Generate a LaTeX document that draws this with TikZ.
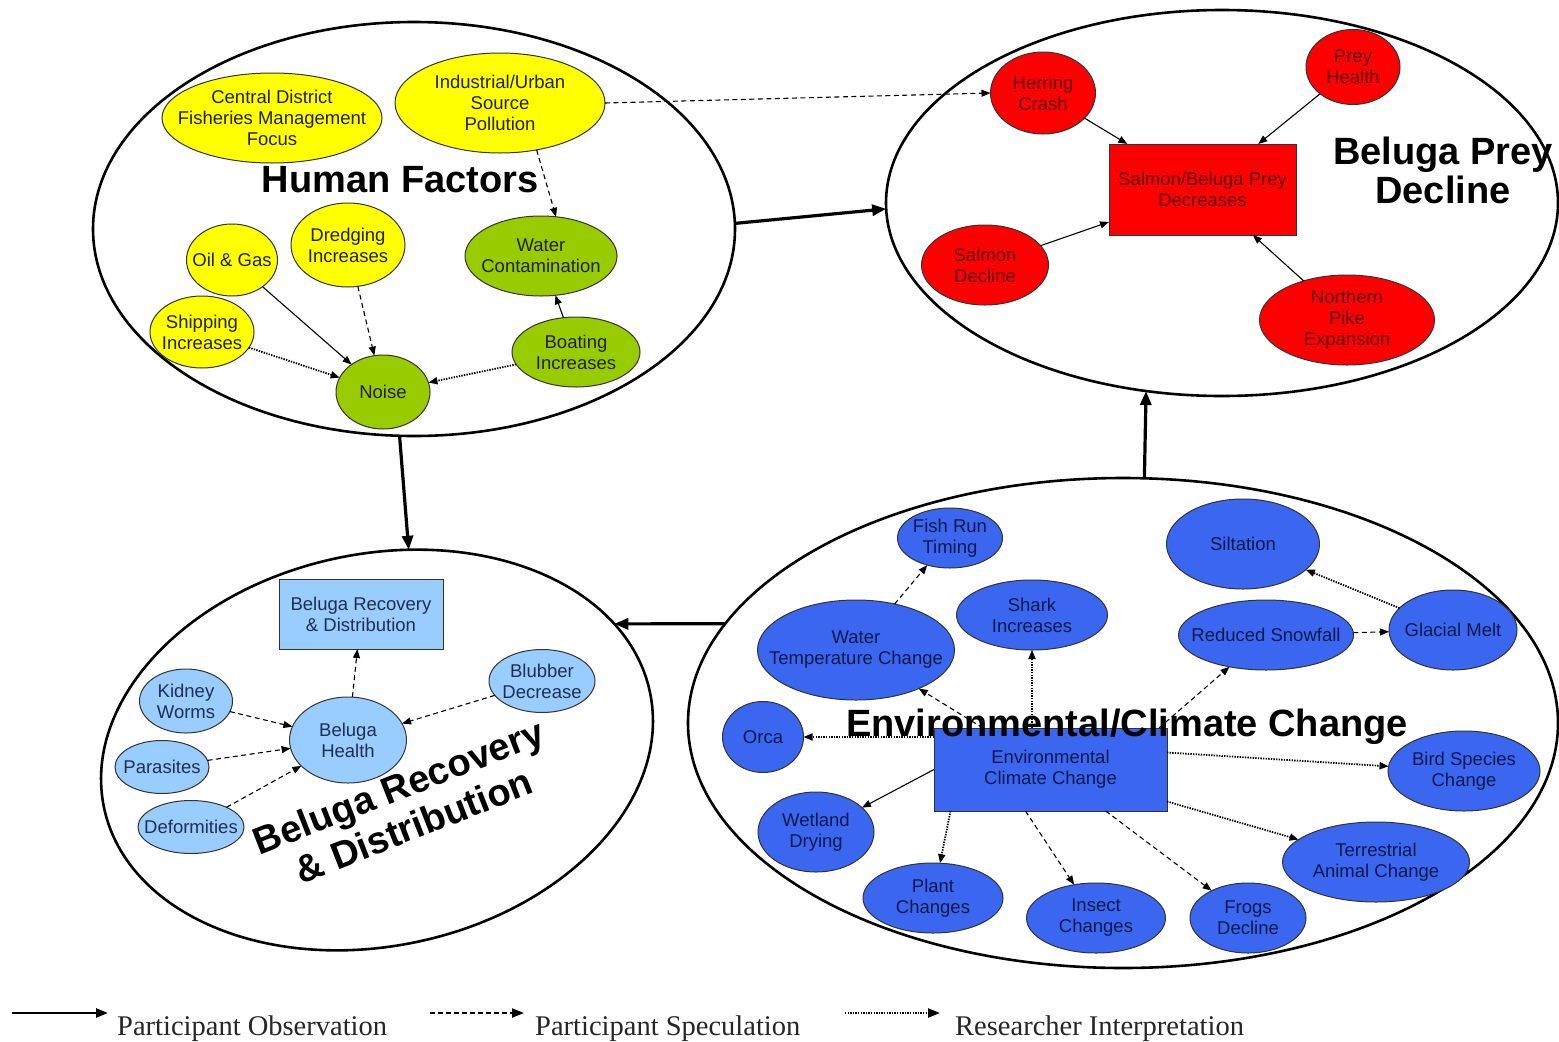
\documentclass[tikz,border=0pt]{standalone}
\usepackage{fontspec}
\setmainfont{Liberation Sans}
\newfontfamily\legfont{Liberation Serif}
\usetikzlibrary{arrows.meta,shapes.geometric}
\definecolor{yel}{HTML}{FFFF00}
\definecolor{grn}{HTML}{99CC00}
\definecolor{redf}{HTML}{FF0000}
\definecolor{blu}{HTML}{3A66F0}
\definecolor{lblu}{HTML}{99CCFF}
\definecolor{darktxt}{HTML}{202020}
\definecolor{redtxt}{HTML}{5C0000}
\definecolor{blutxt}{HTML}{0D1A4D}
\definecolor{lbtxt}{HTML}{1F2F4F}
\newcommand\nodefont{\fontsize{18.5}{21}\selectfont}
\newcommand\titlefont{\fontsize{38}{39}\selectfont\bfseries}
\begin{document}
\begin{tikzpicture}[x=1pt,y=-1pt,
 bigell/.style={ellipse,draw=black,line width=2.6pt,inner sep=0pt,outer sep=0pt},
 ell/.style={ellipse,draw=black!80,line width=1pt,inner sep=0pt,outer sep=0pt},
 lab/.style={align=center,font=\nodefont,inner sep=0pt},
 yelnode/.style={ell,fill=yel,label={[lab,text=darktxt]center:#1}},
 grnnode/.style={ell,fill=grn,label={[lab,text=darktxt]center:#1}},
 rednode/.style={ell,fill=redf,label={[lab,text=redtxt]center:#1}},
 blunode/.style={ell,fill=blu,label={[lab,text=blutxt]center:#1}},
 lbnode/.style={ell,fill=lblu,label={[lab,text=lbtxt]center:#1}},
 box/.style={rectangle,draw=black!80,line width=1pt,inner sep=0pt,outer sep=0pt,align=center,font=\nodefont},
 titlenode/.style={font=\titlefont,align=center,inner sep=0pt,text=black},
 edge/.style={line width=1.1pt,-{Triangle[length=9pt,width=7pt]}},
 obs/.style={edge},
 spec/.style={edge,dash pattern=on 5pt off 3.5pt},
 interp/.style={edge,line width=1.8pt,dash pattern=on 1.4pt off 1.2pt},
 bigarrow/.style={line width=3.2pt,-{Triangle[length=14pt,width=11pt]}},
 legtext/.style={font={\legfont\fontsize{28.5}{30}\selectfont},text=black!85,inner sep=0pt},
]
\fill[white] (0,0) rectangle (1559,1042);
\useasboundingbox (0,0) rectangle (1559,1042);

% group ellipses
\node[bigell,minimum width=642pt,minimum height=414pt] (HF) at (414,229) {};
\node[bigell,minimum width=672pt,minimum height=386pt] (BP) at (1222,203) {};
\node[bigell,rotate=12,minimum width=558pt,minimum height=392pt] (BR) at (377,750) {};
\node[bigell,minimum width=870pt,minimum height=490pt] (ENV) at (1123,723) {};

% Human factors
\node[yelnode={Central District\\Fisheries Management\\Focus},minimum width=220pt,minimum height=90pt] (cdf) at (272,118) {};
\node[yelnode={Industrial/Urban\\Source\\Pollution},minimum width=210pt,minimum height=100pt] (ind) at (500,103) {};
\node[yelnode={Oil \& Gas},minimum width=91pt,minimum height=72pt] (oil) at (232,260) {};
\node[yelnode={Dredging\\Increases},minimum width=114pt,minimum height=84pt] (dre) at (348,245) {};
\node[yelnode={Shipping\\Increases},minimum width=104pt,minimum height=72pt] (shi) at (202,332) {};
\node[grnnode={Water\\Contamination},minimum width=152pt,minimum height=80pt] (wc) at (541,256) {};
\node[grnnode={Boating\\Increases},minimum width=128pt,minimum height=70pt] (boa) at (576,352) {};
\node[grnnode={Noise},minimum width=94pt,minimum height=74pt] (noi) at (383,392) {};

% Beluga prey
\node[rednode={Herring\\Crash},minimum width=105pt,minimum height=82pt] (hc) at (1043,93) {};
\node[rednode={Prey\\Health},minimum width=94pt,minimum height=75pt] (ph) at (1353,67) {};
\node[box,fill=redf,text=redtxt,minimum width=187pt,minimum height=91pt] (sbp) at (1202.5,189.5) {Salmon/Beluga Prey\\Decreases};
\node[rednode={Salmon\\Decline},minimum width=127pt,minimum height=80pt] (sd) at (985,265) {};
\node[rednode={Northern\\Pike\\Expansion},minimum width=175pt,minimum height=90pt] (np) at (1347,320) {};

% Beluga recovery
\node[box,fill=lblu,text=lbtxt,minimum width=164pt,minimum height=70pt] (brd) at (361,614) {Beluga Recovery\\\& Distribution};
\node[lbnode={Kidney\\Worms},minimum width=93pt,minimum height=64pt] (kw) at (186,701) {};
\node[lbnode={Parasites},minimum width=94pt,minimum height=53pt] (par) at (162,767) {};
\node[lbnode={Deformities},minimum width=106pt,minimum height=53pt] (def) at (191,827) {};
\node[lbnode={Beluga\\Health},minimum width=117pt,minimum height=86pt] (bh) at (348,740) {};
\node[lbnode={Blubber\\Decrease},minimum width=106pt,minimum height=63pt] (bd) at (542,681) {};

% Environmental
\node[blunode={Fish Run\\Timing},minimum width=105pt,minimum height=60pt] (frt) at (950,538) {};
\node[blunode={Water\\Temperature Change},minimum width=197pt,minimum height=100pt] (wtc) at (856,650) {};
\node[blunode={Shark\\Increases},minimum width=151pt,minimum height=70pt] (shk) at (1032,615) {};
\node[blunode={Siltation},minimum width=153pt,minimum height=90pt] (sil) at (1243,544) {};
\node[blunode={Reduced Snowfall},minimum width=175pt,minimum height=70pt] (rsn) at (1266,635) {};
\node[blunode={Glacial Melt},minimum width=128pt,minimum height=80pt] (gm) at (1453,630) {};
\node[blunode={Orca},minimum width=81pt,minimum height=71pt] (orc) at (763,737) {};
\node[box,fill=blu,text=blutxt,minimum width=233pt,minimum height=83pt] (ecc) at (1050.5,769.5) {Environmental\\Climate Change};
\node[blunode={Bird Species\\Change},minimum width=152pt,minimum height=80pt] (bsc) at (1464,771) {};
\node[blunode={Wetland\\Drying},minimum width=116pt,minimum height=80pt] (wd) at (816,832) {};
\node[blunode={Plant\\Changes},minimum width=140pt,minimum height=70pt] (pc) at (933,898) {};
\node[blunode={Insect\\Changes},minimum width=139pt,minimum height=70pt] (ic) at (1096,918) {};
\node[blunode={Frogs\\Decline},minimum width=116pt,minimum height=70pt] (fd) at (1248,918) {};
\node[blunode={Terrestrial\\Animal Change},minimum width=187pt,minimum height=80pt] (tac) at (1376,862) {};

% Human factors connectors
\draw[obs] (oil) -- (noi);
\draw[spec] (dre) -- (noi);
\draw[interp] (shi) -- (noi);
\draw[interp] (boa) -- (noi);
\draw[obs] (boa) -- (wc);
\draw[spec] (ind.-52.5) -- (wc.69);
\draw[spec] (ind.east) -- (hc.west);

% Beluga prey connectors
\draw[obs] (hc) -- (sbp);
\draw[obs] (ph) -- (sbp);
\draw[obs] (sd) -- (sbp);
\draw[obs] (np) -- (sbp);

% Beluga recovery connectors
\draw[spec] (bh) -- (brd);
\draw[spec] (kw) -- (bh);
\draw[spec] (par) -- (bh);
\draw[spec] (def) -- (bh);
\draw[spec] (bd) -- (bh);

% Environmental connectors
\draw[spec] (wtc) -- (frt);
\draw[spec] (ecc) -- (wtc);
\draw[interp] (ecc.north -| shk) -- (shk);
\draw[interp] (ecc.west |- orc) -- (orc);
\draw[spec] ([xshift=-8pt]ecc.north east) -- (rsn);
\draw[spec] (rsn) -- (gm);
\draw[interp] (gm) -- (sil);
\draw[interp] ([yshift=17pt]ecc.east) -- (bsc);
\draw[interp] ([yshift=-32pt]ecc.east) -- (tac);
\draw[obs] (ecc.west) -- (wd);
\draw[interp] ([xshift=-100pt]ecc.south) -- (pc);
\draw[spec] ([xshift=-25pt]ecc.south) -- (ic);
\draw[spec] (ecc) -- (fd);

% group connectors
\draw[bigarrow] (HF.1.2) -- (BP.181.7);
\draw[bigarrow] (HF.-94.7) -- (BR.69.8);
\draw[bigarrow] (ENV.85.3) -- (BP.-112.3);
\draw[bigarrow] (ENV.166.7) -- (BR.16.1);

% titles
\node[titlenode,anchor=base] (hft) at (400,192) {Human Factors};
\node[titlenode] (bpt) at (1443,170) {Beluga Prey\\Decline};
\node[titlenode,rotate=21.4,font={\fontsize{38}{42}\selectfont\bfseries}] (brt) at (406,806) {Beluga Recovery\\\& Distribution};
\node[titlenode,anchor=base] (envt) at (1127,736) {Environmental/Climate Change};

% legend
\coordinate (lg1a) at (12,1013); \coordinate (lg1b) at (108,1013);
\coordinate (lg2a) at (430,1013); \coordinate (lg2b) at (524,1013);
\coordinate (lg3a) at (845,1013); \coordinate (lg3b) at (940,1013);
\draw[line width=2.4pt,-{Triangle[length=12pt,width=9pt]}] (lg1a) -- (lg1b);
\draw[line width=2pt,dash pattern=on 5pt off 3pt,-{Triangle[length=12pt,width=9pt]}] (lg2a) -- (lg2b);
\draw[line width=2.2pt,dash pattern=on 1.4pt off 1.2pt,-{Triangle[length=12pt,width=9pt]}] (lg3a) -- (lg3b);
\node[legtext,anchor=base west] (lgt1) at (117,1035) {Participant Observation};
\node[legtext,anchor=base west] (lgt2) at (535,1035) {Participant Speculation};
\node[legtext,anchor=base west] (lgt3) at (955,1035) {Researcher Interpretation};
\end{tikzpicture}
\end{document}
